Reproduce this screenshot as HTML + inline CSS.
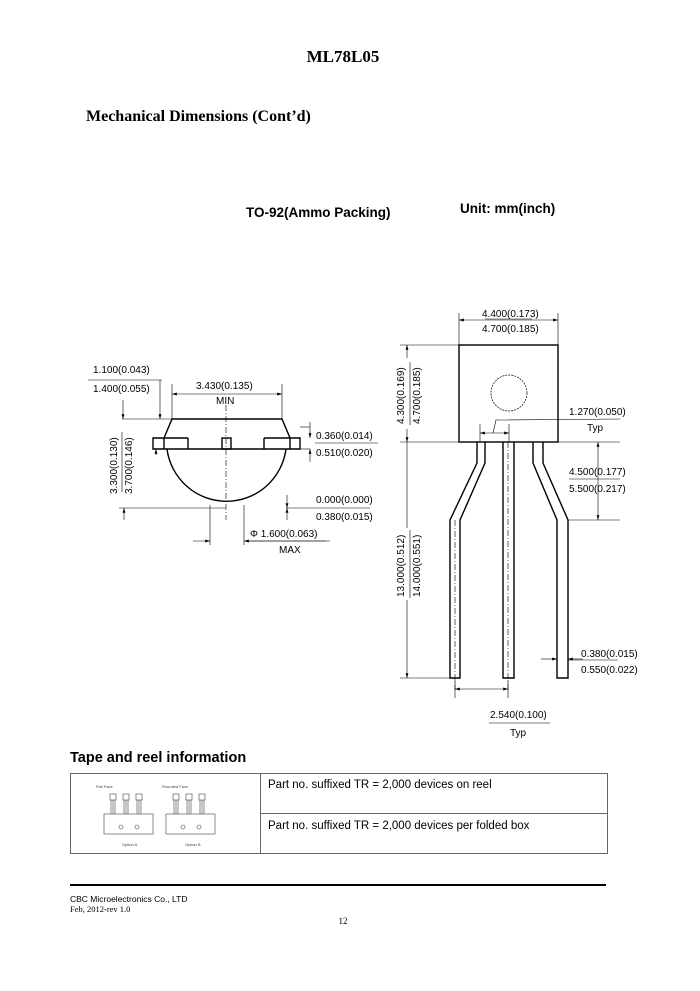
<!DOCTYPE html>
<html><head><style>html,body{margin:0;padding:0;background:#fff}svg{display:block}</style></head><body>
<svg width="700" height="991" viewBox="0 0 700 991" xmlns="http://www.w3.org/2000/svg" font-family="Liberation Sans, sans-serif">
<defs><marker id="a" viewBox="0 0 10 6" refX="10" refY="3" markerWidth="8" markerHeight="5" orient="auto-start-reverse"><path d="M0,0L10,3L0,6z" fill="#000"/></marker></defs>
<text x="343" y="62" font-family="Liberation Serif, serif" font-weight="bold" font-size="17" text-anchor="middle">ML78L05</text>
<text x="86" y="121" font-family="Liberation Serif, serif" font-weight="bold" font-size="16">Mechanical Dimensions (Cont’d)</text>
<text x="246" y="217" font-weight="bold" font-size="13.5">TO-92(Ammo Packing)</text>
<text x="460" y="213" font-weight="bold" font-size="13.5">Unit: mm(inch)</text>

<g fill="none" stroke="#000" stroke-width="1.4">
<path d="M172,419 L282,419 L290,438 L300,438 L300,449 L153,449 L153,438 L164,438 Z"/>
<path d="M167,449 A60,60 0 0 0 286,449"/>
<rect x="222" y="438" width="9" height="11"/>
<line x1="164" y1="438" x2="188" y2="438"/><line x1="188" y1="438" x2="188" y2="449"/>
<line x1="264" y1="438" x2="290" y2="438"/><line x1="264" y1="438" x2="264" y2="449"/>
<line x1="164" y1="438" x2="164" y2="449"/><line x1="290" y1="438" x2="290" y2="449"/>
</g>
<g stroke="#000" stroke-width="0.6" fill="none">
<line x1="226" y1="405" x2="226" y2="520" stroke-dasharray="6,2,1,2"/>
<line x1="172" y1="384" x2="172" y2="419"/><line x1="282" y1="384" x2="282" y2="419"/>
<line x1="172" y1="394" x2="282" y2="394" marker-start="url(#a)" marker-end="url(#a)"/>
<line x1="122" y1="419" x2="172" y2="419"/>
<line x1="160" y1="380" x2="160" y2="419" marker-end="url(#a)"/>
<line x1="123" y1="400" x2="123" y2="419" marker-end="url(#a)"/>
<line x1="88" y1="380" x2="162" y2="380"/>
<line x1="119" y1="508" x2="226" y2="508"/>
<line x1="124" y1="508" x2="124" y2="520" marker-start="url(#a)"/>
<line x1="156" y1="455" x2="156" y2="449" marker-end="url(#a)"/>
<line x1="300" y1="427" x2="310" y2="427"/>
<line x1="310" y1="422" x2="310" y2="438" marker-end="url(#a)"/>
<line x1="310" y1="462" x2="310" y2="449" marker-end="url(#a)"/>
<line x1="300" y1="449" x2="310" y2="449"/>
<line x1="315" y1="443" x2="378" y2="443"/>
<line x1="287" y1="495" x2="287" y2="508" marker-end="url(#a)"/>
<line x1="287" y1="520" x2="287" y2="508" marker-end="url(#a)"/>
<line x1="286" y1="508" x2="370" y2="508"/>
<line x1="210" y1="505" x2="210" y2="545"/><line x1="244" y1="505" x2="244" y2="545"/>
<line x1="193" y1="541" x2="210" y2="541" marker-end="url(#a)"/>
<line x1="326" y1="541" x2="244" y2="541" marker-end="url(#a)"/>
<line x1="245" y1="541" x2="330" y2="541"/>
</g>
<g font-size="10">
<text x="93" y="373">1.100(0.043)</text><text x="93" y="392">1.400(0.055)</text>
<text x="196" y="389">3.430(0.135)</text><text x="216" y="404">MIN</text>
<text x="316" y="439">0.360(0.014)</text><text x="316" y="456">0.510(0.020)</text>
<text x="316" y="503">0.000(0.000)</text><text x="316" y="520">0.380(0.015)</text>
<text x="250" y="537">Φ 1.600(0.063)</text><text x="279" y="553">MAX</text>
<text transform="translate(117,494) rotate(-90)">3.300(0.130)</text>
<text transform="translate(132,494) rotate(-90)">3.700(0.146)</text>
</g>
<line x1="122" y1="432" x2="122" y2="492" stroke="#000" stroke-width="0.6"/>

<g fill="none" stroke="#000" stroke-width="1.4">
<rect x="459" y="345" width="99" height="97"/>
<path d="M477,442 L477,463 L450,520 L450,678 L460,678 L460,520 L485,463 L485,442"/>
<path d="M503,442 L503,678 L514,678 L514,442"/>
<path d="M533,442 L533,463 L557,520 L557,678 L568,678 L568,520 L543,463 L543,442"/>
</g>
<circle cx="509" cy="393" r="18" fill="none" stroke="#000" stroke-width="0.7" stroke-dasharray="2,1"/>
<g stroke="#000" stroke-width="0.6" fill="none">
<line x1="455" y1="520" x2="455" y2="690" stroke-dasharray="6,2,1,2"/>
<line x1="508" y1="442" x2="508" y2="690" stroke-dasharray="6,2,1,2"/>
<line x1="459" y1="313" x2="459" y2="345"/><line x1="558" y1="313" x2="558" y2="345"/>
<line x1="459" y1="320" x2="558" y2="320" marker-start="url(#a)" marker-end="url(#a)"/>
<line x1="485" y1="319" x2="532" y2="319"/>
<line x1="400" y1="345" x2="459" y2="345"/>
<line x1="400" y1="442" x2="620" y2="442"/>
<line x1="407" y1="358" x2="407" y2="345" marker-end="url(#a)"/>
<line x1="407" y1="429" x2="407" y2="442" marker-end="url(#a)"/>
<line x1="407" y1="442" x2="407" y2="528"/>
<line x1="407" y1="600" x2="407" y2="678" marker-end="url(#a)"/>
<line x1="400" y1="678" x2="450" y2="678"/>
<line x1="480" y1="424" x2="480" y2="442"/><line x1="509" y1="424" x2="509" y2="442"/>
<line x1="480" y1="433" x2="509" y2="433" marker-start="url(#a)" marker-end="url(#a)"/>
<path d="M493,433 L496,420 L620,419"/>
<line x1="598" y1="442" x2="598" y2="520" marker-start="url(#a)" marker-end="url(#a)"/>
<line x1="568" y1="520" x2="620" y2="520"/>
<line x1="569" y1="479" x2="620" y2="479"/>
<line x1="541" y1="659" x2="557" y2="659" marker-end="url(#a)"/>
<line x1="583" y1="659" x2="568" y2="659" marker-end="url(#a)"/>
<line x1="568" y1="660" x2="618" y2="660"/>
<line x1="455" y1="680" x2="455" y2="698"/><line x1="508" y1="680" x2="508" y2="698"/>
<line x1="455" y1="689" x2="508" y2="689" marker-start="url(#a)" marker-end="url(#a)"/>
<line x1="489" y1="723" x2="550" y2="723"/>
<line x1="410" y1="362" x2="410" y2="425"/>
<line x1="410" y1="530" x2="410" y2="598"/>
</g>
<g font-size="10">
<text x="482" y="317">4.400(0.173)</text><text x="482" y="332">4.700(0.185)</text>
<text transform="translate(404,424) rotate(-90)">4.300(0.169)</text>
<text transform="translate(420,424) rotate(-90)">4.700(0.185)</text>
<text x="569" y="415">1.270(0.050)</text><text x="587" y="431">Typ</text>
<text x="569" y="475">4.500(0.177)</text><text x="569" y="492">5.500(0.217)</text>
<text transform="translate(404,597) rotate(-90)">13.000(0.512)</text>
<text transform="translate(420,597) rotate(-90)">14.000(0.551)</text>
<text x="581" y="657">0.380(0.015)</text><text x="581" y="673">0.550(0.022)</text>
<text x="490" y="718">2.540(0.100)</text><text x="510" y="736">Typ</text>
</g>

<text x="70" y="762" font-weight="bold" font-size="14.5">Tape and reel information</text>
<g fill="none" stroke="#666" stroke-width="1">
<rect x="70.5" y="773.5" width="537" height="80"/>
<line x1="260.5" y1="773" x2="260.5" y2="854"/>
<line x1="260" y1="813.5" x2="608" y2="813.5"/>
</g>
<g font-size="11.5"><text x="268" y="788">Part no. suffixed TR = 2,000 devices on reel</text>
<text x="268" y="829">Part no. suffixed TR = 2,000 devices per folded box</text></g>
<g fill="none" stroke="#444" stroke-width="0.6">
<rect x="104" y="814" width="49" height="20"/><rect x="166" y="814" width="49" height="20"/>
<circle cx="121" cy="827" r="2"/><circle cx="137" cy="827" r="2"/>
<circle cx="183" cy="827" r="2"/><circle cx="199" cy="827" r="2"/>
<rect x="110" y="794" width="6" height="6"/><rect x="123" y="794" width="6" height="6"/><rect x="136" y="794" width="6" height="6"/>
<rect x="173" y="794" width="6" height="6"/><rect x="186" y="794" width="6" height="6"/><rect x="199" y="794" width="6" height="6"/>
<path d="M111,800v14M113,800v14M115,800v14M124,800v14M126,800v14M128,800v14M137,800v14M139,800v14M141,800v14M174,800v14M176,800v14M178,800v14M187,800v14M189,800v14M191,800v14M200,800v14M202,800v14M204,800v14"/>
</g>
<g font-size="4" fill="#444"><text x="96" y="788">Flat Face</text><text x="162" y="788">Rounded Face</text><text x="122" y="846">Option A</text><text x="185" y="846">Option B</text></g>

<line x1="70" y1="885" x2="606" y2="885" stroke="#000" stroke-width="2"/>
<text x="70" y="902" font-size="8.5">CBC Microelectronics Co., LTD</text>
<text x="70" y="912" font-size="8.5" font-family="Liberation Serif, serif">Feb, 2012-rev 1.0</text>
<text x="343" y="924" font-size="9" font-family="Liberation Serif, serif" text-anchor="middle">12</text>
</svg>
</body></html>
